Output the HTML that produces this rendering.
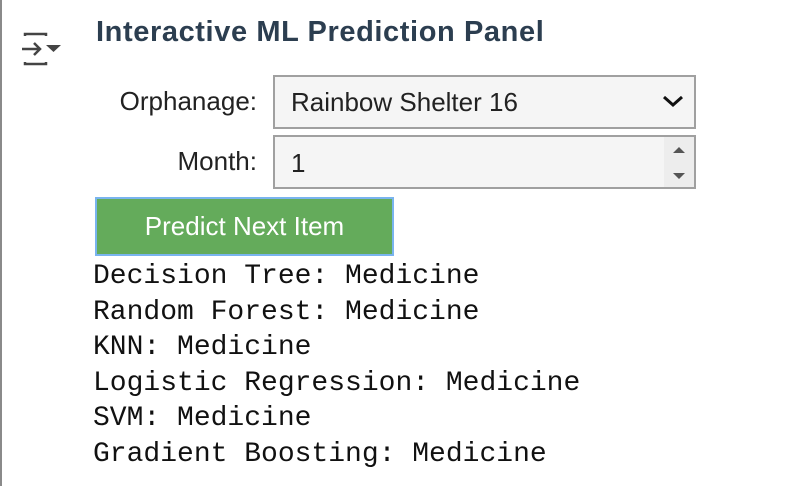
<!DOCTYPE html>
<html><head><meta charset="utf-8"><style>
body{margin:0;width:806px;height:486px;background:#fff;position:relative;overflow:hidden;font-family:"Liberation Sans",Arial,sans-serif;}
.abs{position:absolute;}
</style></head><body>
<div class="abs" style="left:0;top:0;width:2px;height:486px;background:#8a8a8a"></div>
<svg class="abs" style="left:20px;top:30px" width="44" height="40" viewBox="0 0 44 40">
<path d="M5 6 V4 H26 V6 M5 32 V34 H26 V32" fill="none" stroke="#444" stroke-width="2.5"/>
<path d="M2 19 H20 M14 13 L20 19 L14 25" fill="none" stroke="#444" stroke-width="2.5"/>
<path d="M26 15 H41 L33.5 22 Z" fill="#444"/>
</svg>
<div class="abs" style="left:96px;top:16px;font-size:29px;letter-spacing:0.6px;font-weight:bold;color:#2c3e50;white-space:nowrap">Interactive ML Prediction Panel</div>
<div class="abs" style="left:90px;width:167px;text-align:right;top:86px;font-size:26px;color:#222;white-space:nowrap">Orphanage:</div>
<div class="abs" style="left:273px;top:75px;width:419px;height:50px;border:2px solid #a0a0a0;background:#f5f5f5">
<span style="position:absolute;left:16px;top:10px;font-size:26px;color:#222;white-space:nowrap">Rainbow Shelter 16</span>
<svg style="position:absolute;right:10px;top:16px" width="22" height="16"><path d="M2 4 L11 12 L20 4" fill="none" stroke="#111" stroke-width="3"/></svg>
</div>
<div class="abs" style="left:90px;width:167px;text-align:right;top:146px;font-size:26px;color:#222">Month:</div>
<div class="abs" style="left:273px;top:135px;width:419px;height:50px;border:2px solid #a0a0a0;background:#f5f5f5">
<span style="position:absolute;left:16px;top:11px;font-size:26px;color:#222">1</span>
<div style="position:absolute;right:0;top:0;width:30px;height:50px;background:#ededed"></div>
<svg style="position:absolute;right:8px;top:8px" width="14" height="36"><path d="M1 8 L7 2 L13 8Z M1 28 L7 34 L13 28Z" fill="#555"/></svg>
</div>
<div class="abs" style="left:95px;top:197px;width:295px;height:55px;background:#64ab5b;border:2px solid #79b4ee;color:#fff;font-size:26px;text-align:center;line-height:55px;white-space:nowrap">Predict Next Item</div>
<div class="abs" style="left:93px;top:259px;font-family:'Liberation Mono',monospace;font-size:28px;line-height:35.6px;color:#111;white-space:nowrap"><div>Decision Tree: Medicine</div><div>Random Forest: Medicine</div><div>KNN: Medicine</div><div>Logistic Regression: Medicine</div><div>SVM: Medicine</div><div>Gradient Boosting: Medicine</div></div>
</body></html>
